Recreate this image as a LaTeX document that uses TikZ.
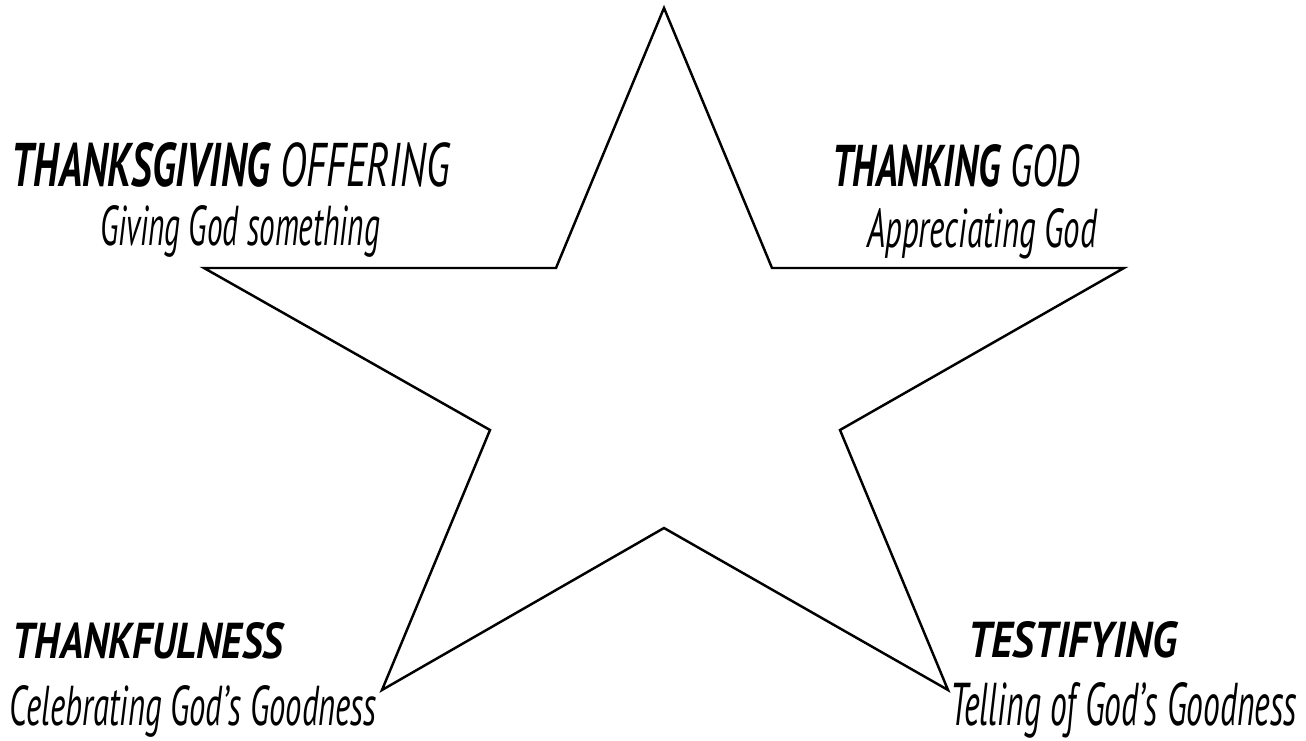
\documentclass[tikz,border=0pt]{standalone}
\usepackage{fontspec}
\setmainfont{PT Sans}
\usepackage{graphicx}
\begin{document}
\begin{tikzpicture}
\tikzset{
  starline/.style={draw=black, line width=1.4pt, line join=miter},
  lbl/.style={anchor=base west, inner sep=0pt, outer sep=0pt, font=\itshape},
}
\useasboundingbox (0,0) rectangle (26.12,14.8);
% star vertices
\coordinate (p1) at (13.28,14.64);
\coordinate (p2) at (15.44,9.44);
\coordinate (p3) at (22.48,9.44);
\coordinate (p4) at (16.80,6.20);
\coordinate (p5) at (18.96,1.00);
\coordinate (p6) at (13.28,4.24);
\coordinate (p7) at (7.64,1.00);
\coordinate (p8) at (9.80,6.20);
\coordinate (p9) at (4.08,9.44);
\coordinate (p10) at (11.12,9.44);
\draw[starline] (p1) -- (p2) -- (p3) -- (p4) -- (p5) -- (p6) -- (p7) -- (p8) -- (p9) -- (p10) -- cycle;
% labels
\node[lbl] (t1) at (0.24,11.06) {\resizebox{8.76cm}{0.88cm}{\textbf{THANKSGIVING} OFFERING}};
\node[lbl] (s1) at (2.0,9.88) {\resizebox{5.6cm}{0.8cm}{Giving God something}};
\node[lbl] (t2) at (16.64,11.06) {\resizebox{4.96cm}{0.84cm}{\textbf{THANKING} GOD}};
\node[lbl] (s2) at (17.34,9.84) {\resizebox{4.6cm}{0.78cm}{Appreciating God}};
\node[lbl] (t3) at (0.26,1.64) {\resizebox{5.4cm}{0.72cm}{\textbf{THANKFULNESS}}};
\node[lbl] (s3) at (0.2,0.30) {\resizebox{7.34cm}{0.8cm}{Celebrating God’s Goodness}};
\node[lbl] (t4) at (19.36,1.66) {\resizebox{4.18cm}{0.72cm}{\textbf{TESTIFYING}}};
\node[lbl] (s4) at (19.0,0.30) {\resizebox{6.94cm}{0.86cm}{Telling of God’s Goodness}};
\end{tikzpicture}
\end{document}
